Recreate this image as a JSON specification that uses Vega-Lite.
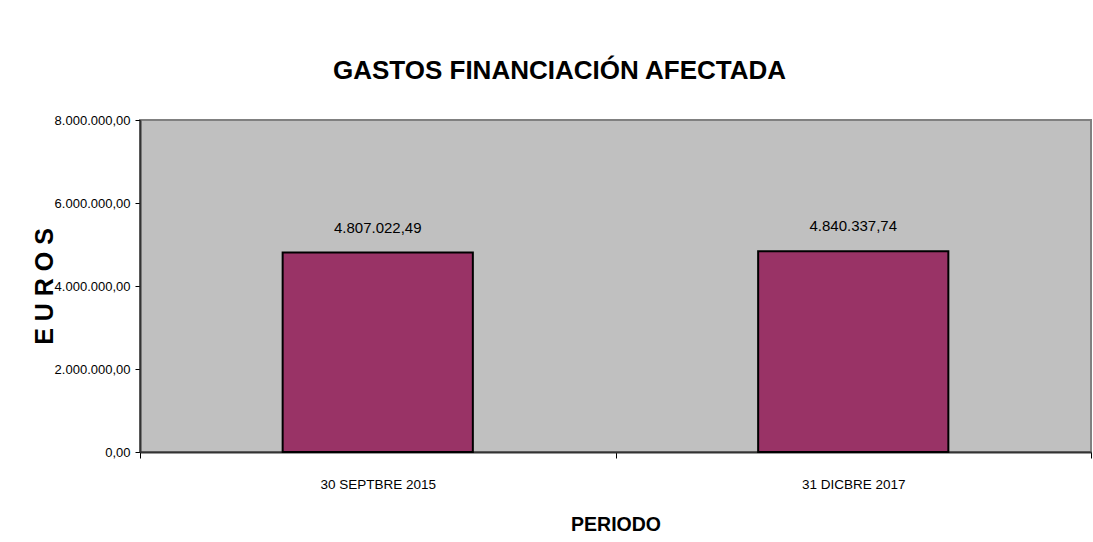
{
  "$schema": "https://vega.github.io/schema/vega-lite/v6.json",
  "width": 951,
  "height": 332,
  "autosize": {"type": "none"},
  "padding": {"left": 140, "top": 120, "right": 2, "bottom": 90},
  "background": "white",
  "title": {
    "text": "GASTOS FINANCIACIÓN AFECTADA",
    "font": "Liberation Sans, Arial, sans-serif",
    "fontSize": 26,
    "fontWeight": "bold",
    "color": "black",
    "frame": "group",
    "anchor": "middle",
    "baseline": "alphabetic",
    "offset": 9,
    "dx": -56
  },
  "data": {
    "values": [
      {"periodo": "30 SEPTBRE 2015", "euros": 4807022.49},
      {"periodo": "31 DICBRE 2017", "euros": 4840337.74}
    ]
  },
  "encoding": {
    "x": {
      "field": "periodo",
      "type": "nominal",
      "sort": null,
      "scale": {"paddingInner": 0, "paddingOuter": 0},
      "axis": {
        "title": "PERIODO",
        "labelAngle": 0,
        "tickBand": "extent",
        "tickSize": 6,
        "tickColor": "black",
        "domainColor": "#333333",
        "domainWidth": 2,
        "labelFont": "Liberation Sans, Arial, sans-serif",
        "labelFontSize": 13.5,
        "labelColor": "black",
        "labelPadding": 19,
        "titleFont": "Liberation Sans, Arial, sans-serif",
        "titleFontSize": 19.5,
        "titleFontWeight": "bold",
        "titleColor": "black",
        "titleY": 78,
        "titleBaseline": "alphabetic",
        "grid": false
      }
    },
    "y": {
      "field": "euros",
      "type": "quantitative",
      "scale": {"domain": [0, 8000000], "nice": false},
      "axis": {
        "title": "E U R O S",
        "values": [0, 2000000, 4000000, 6000000, 8000000],
        "format": ",.2f",
        "grid": false,
        "tickSize": 5,
        "tickColor": "black",
        "domainColor": "#333333",
        "domainWidth": 2,
        "labelFont": "Liberation Sans, Arial, sans-serif",
        "labelFontSize": 13,
        "labelColor": "black",
        "labelPadding": 5,
        "titleFont": "Liberation Sans, Arial, sans-serif",
        "titleFontSize": 25,
        "titleFontWeight": "bold",
        "titleColor": "black",
        "titleX": -88,
        "titleBaseline": "alphabetic",
        "titleAngle": -90
      }
    }
  },
  "layer": [
    {
      "mark": {"type": "bar", "width": {"band": 0.4}, "color": "#993366", "stroke": "black", "strokeWidth": 2}
    },
    {
      "mark": {"type": "text", "baseline": "alphabetic", "dy": -20, "font": "Liberation Sans, Arial, sans-serif", "fontSize": 15, "color": "black"},
      "encoding": {
        "text": {"field": "euros", "type": "quantitative", "format": ",.2f"}
      }
    }
  ],
  "config": {
    "locale": {"number": {"decimal": ",", "thousands": ".", "grouping": [3], "currency": ["", " €"]}},
    "view": {"fill": "#C0C0C0", "stroke": "#808080", "strokeWidth": 2}
  }
}
